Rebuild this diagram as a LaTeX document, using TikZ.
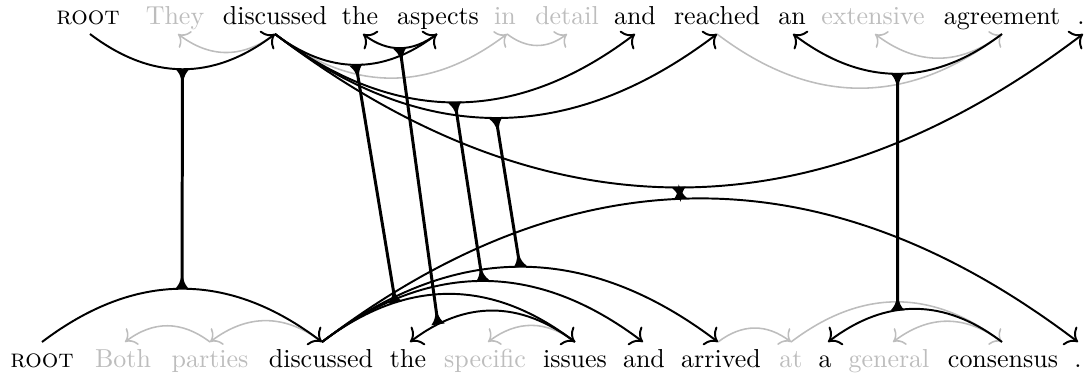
\documentclass[tikz,border=0pt]{standalone}
\usetikzlibrary{calc,arrows.meta}

\definecolor{faint}{gray}{0.74}

% dependency arc: style, head, dependent, direction (-1 hangs down, +1 rises), extra path ops
\newcommand{\deparc}[5]{%
  \draw[#1] let \p1=(#2), \p2=(#3), \n1={#4*0.253*abs(\x2-\x1)} in
    (\p1) .. controls ($(\p1)!1/3!(\p2)+(0pt,\n1)$) and ($(\p1)!2/3!(\p2)+(0pt,\n1)$) .. (\p2) #5;}

% flared foot of an alignment link, sitting at #1 and pointing to #2
\newcommand{\flare}[2]{%
  \fill ($(#1)!2.6pt!90:(#2)$) .. controls ($(#1)!2.2pt!28:(#2)$) .. ($(#1)!5.6pt!(#2)$)
        .. controls ($(#1)!2.2pt!-28:(#2)$) .. ($(#1)!2.6pt!-90:(#2)$) -- cycle;}

\tikzset{
  word/.style={anchor=base, inner sep=0pt},
  dim/.style={text=faint},
  arcmain/.style={-{To[scale=1.3]}, line width=0.75pt, black},
  arclight/.style={-{To[scale=1.3]}, line width=0.6pt, faint},
  link/.style={line width=1.15pt},
}

\begin{document}
\begin{tikzpicture}[x=0.385pt, y=-0.385pt]
\useasboundingbox (0,0) rectangle (1085,377);

% ---- upper sentence ----
\node[word]     (t0)  at (88,24.5)   {\textsc{root}};
\node[word,dim] (t1)  at (175,24.5)  {They};
\node[word]     (t2)  at (275,24.5)  {discussed};
\node[word]     (t3)  at (360,24.5)  {the};
\node[word]     (t4)  at (438,24.5)  {aspects};
\node[word,dim] (t5)  at (505,24.5)  {in};
\node[word,dim] (t6)  at (567,24.5)  {detail};
\node[word]     (t7)  at (635,24.5)  {and};
\node[word]     (t8)  at (717,24.5)  {reached};
\node[word]     (t9)  at (792,24.5)  {an};
\node[word,dim] (t10) at (873,24.5)  {extensive};
\node[word]     (t11) at (1002,24.5) {agreement};
\node[word]     (t12) at (1081,24.5) {.};

\coordinate (a0)  at (90,34);
\coordinate (a1)  at (178,34);
\coordinate (a2)  at (275,34);
\coordinate (a3)  at (363,34);
\coordinate (a4)  at (437,34);
\coordinate (a5)  at (507,34);
\coordinate (a6)  at (567,34);
\coordinate (a7)  at (635,34);
\coordinate (a8)  at (717,34);
\coordinate (a9)  at (793,34);
\coordinate (a10) at (875,34);
\coordinate (a11) at (1002,34);
\coordinate (a12) at (1083,34);

% ---- lower sentence ----
\node[word]     (s0)  at (42,367)   {\textsc{root}};
\node[word,dim] (s1)  at (123,367)  {Both};
\node[word,dim] (s2)  at (210,367)  {parties};
\node[word]     (s3)  at (321,367)  {discussed};
\node[word]     (s4)  at (408,367)  {the};
\node[word,dim] (s5)  at (485,367)  {specific};
\node[word]     (s6)  at (575,367)  {issues};
\node[word]     (s7)  at (644,367)  {and};
\node[word]     (s8)  at (721,367)  {arrived};
\node[word,dim] (s9)  at (791,367)  {at};
\node[word]     (s10) at (825,367)  {a};
\node[word,dim] (s11) at (889,367)  {general};
\node[word]     (s12) at (1003,367) {consensus};
\node[word]     (s13) at (1078,367) {.};

\coordinate (b0)  at (42,342);
\coordinate (b1)  at (125,342);
\coordinate (b2)  at (210,342);
\coordinate (b3)  at (322,342);
\coordinate (b4)  at (410,342);
\coordinate (b5)  at (488,342);
\coordinate (b6)  at (575,342);
\coordinate (b7)  at (643,342);
\coordinate (b8)  at (718,342);
\coordinate (b9)  at (791,342);
\coordinate (b10) at (828,342);
\coordinate (b11) at (893,342);
\coordinate (b12) at (1002,342);
\coordinate (b13) at (1078,342);

% ---- light arcs ----
\deparc{arclight}{a2}{a1}{-1}{}
\deparc{arclight}{a2}{a5}{-1}{}
\deparc{arclight}{a5}{a6}{-1}{}
\deparc{arclight}{a8}{a11}{-1}{}
\deparc{arclight}{a11}{a10}{-1}{}

\deparc{arclight}{b3}{b2}{1}{}
\deparc{arclight}{b2}{b1}{1}{}
\deparc{arclight}{b6}{b5}{1}{}
\deparc{arclight}{b8}{b9}{1}{}
\deparc{arclight}{b9}{b12}{1}{}
\deparc{arclight}{b12}{b11}{1}{}

% ---- main arcs ----
\deparc{arcmain}{a0}{a2}{-1}{coordinate[pos=0.5] (u1)}
\deparc{arcmain}{a2}{a4}{-1}{coordinate[pos=0.5] (u2)}
\deparc{arcmain}{a4}{a3}{-1}{coordinate[pos=0.5] (u3)}
\deparc{arcmain}{a2}{a7}{-1}{coordinate[pos=0.5] (u4)}
\deparc{arcmain}{a2}{a8}{-1}{coordinate[pos=0.5] (u5)}
\deparc{arcmain}{a2}{a12}{-1}{coordinate[pos=0.5] (u6)}
\deparc{arcmain}{a11}{a9}{-1}{coordinate[pos=0.5] (u7)}

\deparc{arcmain}{b0}{b3}{1}{coordinate[pos=0.5] (l1)}
\deparc{arcmain}{b3}{b6}{1}{coordinate[pos=0.29] (l2)}
\deparc{arcmain}{b6}{b4}{1}{coordinate[pos=0.83] (l3)}
\deparc{arcmain}{b3}{b7}{1}{coordinate[pos=0.5] (l4)}
\deparc{arcmain}{b3}{b8}{1}{coordinate[pos=0.5] (l5)}
\deparc{arcmain}{b3}{b13}{1}{coordinate[pos=0.474] (l6)}
\deparc{arcmain}{b12}{b10}{1}{coordinate[pos=0.6] (l7)}

% ---- alignment links ----
\foreach \i in {1,...,7}{
  \draw[link] (u\i) -- (l\i);
  \flare{u\i}{l\i}
  \flare{l\i}{u\i}
}
\end{tikzpicture}
\end{document}
